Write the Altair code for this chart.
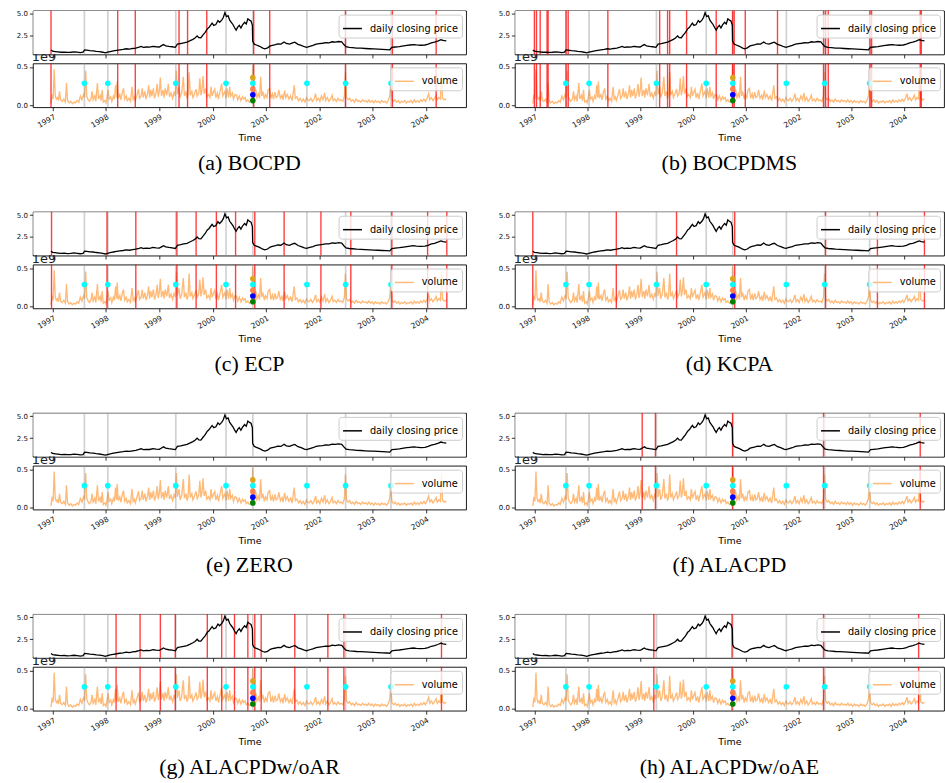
import altair as alt
import pandas as pd

# ---------------- data ----------------
price_year = [1996.97, 1997.00, 1997.05, 1997.10, 1997.16, 1997.22, 1997.28, 1997.34, 1997.40, 1997.46,
              1997.52, 1997.57, 1997.60, 1997.64, 1997.70, 1997.76, 1997.82, 1997.88, 1997.94, 1997.99,
              1998.03, 1998.08, 1998.14, 1998.20, 1998.26, 1998.32, 1998.38, 1998.44, 1998.50, 1998.56,
              1998.62, 1998.66, 1998.70, 1998.76, 1998.82, 1998.88, 1998.94, 1999.00, 1999.05, 1999.08,
              1999.12, 1999.18, 1999.24, 1999.30, 1999.34, 1999.40, 1999.46, 1999.52, 1999.58, 1999.63,
              1999.67, 1999.71, 1999.74, 1999.78, 1999.82, 1999.86, 1999.90, 1999.93, 1999.96, 1999.99,
              2000.02, 2000.06, 2000.10, 2000.13, 2000.17, 2000.20, 2000.23, 2000.26, 2000.29, 2000.32,
              2000.35, 2000.38, 2000.41, 2000.44, 2000.47, 2000.50, 2000.53, 2000.56, 2000.60, 2000.63,
              2000.66, 2000.69, 2000.72, 2000.745, 2000.75, 2000.78, 2000.82, 2000.88, 2000.94, 2000.98,
              2001.03, 2001.08, 2001.12, 2001.18, 2001.22, 2001.28, 2001.34, 2001.38, 2001.44, 2001.50,
              2001.54, 2001.60, 2001.66, 2001.72, 2001.76, 2001.82, 2001.88, 2001.94, 2002.00, 2002.06,
              2002.12, 2002.18, 2002.24, 2002.30, 2002.36, 2002.42, 2002.46, 2002.50, 2002.56, 2002.62,
              2002.70, 2002.78, 2002.86, 2002.94, 2003.02, 2003.10, 2003.18, 2003.26, 2003.32, 2003.36,
              2003.42, 2003.50, 2003.58, 2003.64, 2003.70, 2003.76, 2003.82, 2003.90, 2003.98, 2004.04,
              2004.10, 2004.16, 2004.22, 2004.28, 2004.32, 2004.38]
price_value = [0.87, 0.74, 0.70, 0.66, 0.62, 0.64, 0.60, 0.62, 0.67, 0.63,
               0.58, 0.62, 0.88, 0.86, 0.80, 0.78, 0.72, 0.68, 0.62, 0.55,
               0.62, 0.70, 0.78, 0.84, 0.90, 0.95, 1.02, 0.98, 1.05, 1.10,
               1.20, 1.28, 1.18, 1.22, 1.20, 1.30, 1.25, 1.22, 1.40, 1.50,
               1.36, 1.30, 1.25, 1.18, 1.55, 1.62, 1.70, 1.78, 1.95, 2.10,
               2.25, 2.50, 2.30, 2.28, 2.60, 2.90, 3.30, 3.45, 3.70, 3.95,
               3.70, 3.80, 4.25, 4.05, 4.30, 4.60, 5.15, 4.70, 4.80, 4.30,
               4.05, 3.80, 3.45, 3.15, 3.50, 3.70, 3.40, 3.75, 4.05, 3.85,
               4.45, 4.30, 4.20, 3.70, 1.90, 1.55, 1.45, 1.30, 1.10, 1.02,
               1.12, 1.35, 1.42, 1.50, 1.58, 1.55, 1.80, 1.62, 1.55, 1.70,
               1.78, 1.52, 1.40, 1.25, 1.19, 1.30, 1.40, 1.55, 1.60, 1.65,
               1.72, 1.70, 1.82, 1.78, 1.85, 1.80, 1.50, 1.25, 1.18, 1.15,
               1.10, 1.08, 1.05, 1.02, 1.00, 0.98, 0.95, 0.93, 0.90, 1.18,
               1.22, 1.27, 1.35, 1.40, 1.45, 1.50, 1.46, 1.42, 1.45, 1.55,
               1.70, 1.78, 1.90, 2.05, 1.98, 1.92]

# volume, in units of 1e9 shares
vol_year = [1996.97, 1996.99, 1997.01, 1997.03, 1997.05, 1997.07, 1997.09, 1997.11, 1997.13, 1997.15,
            1997.18, 1997.21, 1997.24, 1997.26, 1997.28, 1997.31, 1997.34, 1997.37, 1997.40, 1997.43,
            1997.46, 1997.49, 1997.52, 1997.55, 1997.58, 1997.60, 1997.62, 1997.64, 1997.66, 1997.69,
            1997.72, 1997.74, 1997.76, 1997.79, 1997.81, 1997.84, 1997.86, 1997.89, 1997.91, 1997.93,
            1997.95, 1997.98, 1998.00, 1998.02, 1998.04, 1998.06, 1998.09, 1998.11, 1998.14, 1998.16,
            1998.18, 1998.20, 1998.21, 1998.23, 1998.26, 1998.28, 1998.31, 1998.33, 1998.35, 1998.38,
            1998.40, 1998.43, 1998.46, 1998.49, 1998.51, 1998.53, 1998.55, 1998.58, 1998.61, 1998.63,
            1998.66, 1998.68, 1998.70, 1998.73, 1998.75, 1998.78, 1998.80, 1998.82, 1998.84, 1998.86,
            1998.89, 1998.91, 1998.94, 1998.96, 1998.98, 1999.00, 1999.02, 1999.04, 1999.07, 1999.09,
            1999.11, 1999.14, 1999.17, 1999.19, 1999.22, 1999.25, 1999.28, 1999.30, 1999.32, 1999.34,
            1999.37, 1999.39, 1999.42, 1999.45, 1999.47, 1999.50, 1999.52, 1999.54, 1999.56, 1999.58,
            1999.61, 1999.63, 1999.66, 1999.69, 1999.71, 1999.74, 1999.76, 1999.78, 1999.80, 1999.82,
            1999.84, 1999.87, 1999.89, 1999.92, 1999.95, 1999.97, 1999.99, 2000.02, 2000.04, 2000.06,
            2000.09, 2000.11, 2000.14, 2000.17, 2000.19, 2000.21, 2000.23, 2000.25, 2000.27, 2000.30,
            2000.32, 2000.34, 2000.37, 2000.39, 2000.42, 2000.45, 2000.47, 2000.50, 2000.53, 2000.56,
            2000.58, 2000.61, 2000.63, 2000.66, 2000.69, 2000.72, 2000.74, 2000.75, 2000.77, 2000.79,
            2000.81, 2000.83, 2000.86, 2000.88, 2000.90, 2000.92, 2000.94, 2000.97, 2000.99, 2001.02,
            2001.04, 2001.07, 2001.09, 2001.12, 2001.14, 2001.17, 2001.19, 2001.22, 2001.24, 2001.27,
            2001.30, 2001.32, 2001.35, 2001.37, 2001.40, 2001.43, 2001.46, 2001.49, 2001.51, 2001.53,
            2001.55, 2001.58, 2001.61, 2001.64, 2001.67, 2001.70, 2001.73, 2001.76, 2001.78, 2001.81,
            2001.84, 2001.87, 2001.90, 2001.93, 2001.95, 2001.98, 2002.01, 2002.04, 2002.07, 2002.10,
            2002.12, 2002.15, 2002.18, 2002.21, 2002.24, 2002.26, 2002.29, 2002.32, 2002.35, 2002.38,
            2002.41, 2002.44, 2002.47, 2002.49, 2002.51, 2002.54, 2002.57, 2002.60, 2002.63, 2002.66,
            2002.69, 2002.72, 2002.75, 2002.78, 2002.81, 2002.84, 2002.87, 2002.90, 2002.93, 2002.96,
            2002.99, 2003.02, 2003.05, 2003.08, 2003.11, 2003.14, 2003.17, 2003.20, 2003.23, 2003.26,
            2003.29, 2003.32, 2003.34, 2003.36, 2003.39, 2003.42, 2003.45, 2003.48, 2003.51, 2003.54,
            2003.57, 2003.60, 2003.63, 2003.66, 2003.69, 2003.72, 2003.75, 2003.78, 2003.81, 2003.84,
            2003.87, 2003.90, 2003.93, 2003.96, 2003.99, 2004.02, 2004.05, 2004.07, 2004.10, 2004.13,
            2004.16, 2004.19, 2004.21, 2004.24, 2004.27, 2004.29, 2004.31, 2004.34, 2004.36, 2004.38]
vol_value = [0.02, 0.14, 0.08, 0.47, 0.12, 0.08, 0.10, 0.06, 0.18, 0.07,
             0.05, 0.08, 0.04, 0.29, 0.06, 0.03, 0.05, 0.02, 0.04, 0.03,
             0.06, 0.04, 0.12, 0.07, 0.14, 0.10, 0.45, 0.12, 0.08, 0.05,
             0.08, 0.18, 0.07, 0.12, 0.05, 0.29, 0.08, 0.13, 0.06, 0.20,
             0.04, 0.06, 0.03, 0.10, 0.20, 0.08, 0.11, 0.05, 0.12, 0.08,
             0.26, 0.10, 0.31, 0.09, 0.14, 0.07, 0.18, 0.22, 0.08, 0.12,
             0.06, 0.09, 0.05, 0.24, 0.08, 0.11, 0.06, 0.13, 0.21, 0.09,
             0.12, 0.22, 0.10, 0.18, 0.08, 0.15, 0.26, 0.10, 0.20, 0.12,
             0.22, 0.09, 0.16, 0.28, 0.11, 0.18, 0.36, 0.12, 0.20, 0.10,
             0.22, 0.13, 0.28, 0.11, 0.16, 0.09, 0.18, 0.12, 0.45, 0.14,
             0.24, 0.10, 0.16, 0.37, 0.12, 0.18, 0.09, 0.14, 0.43, 0.13,
             0.18, 0.10, 0.15, 0.21, 0.12, 0.16, 0.35, 0.13, 0.20, 0.38,
             0.15, 0.22, 0.11, 0.14, 0.10, 0.24, 0.12, 0.18, 0.21, 0.10,
             0.16, 0.08, 0.18, 0.28, 0.12, 0.15, 0.18, 0.09, 0.22, 0.10,
             0.24, 0.12, 0.16, 0.08, 0.14, 0.13, 0.07, 0.12, 0.06, 0.11,
             0.08, 0.10, 0.05, 0.07, 0.04, 0.06, 0.10, 0.52, 0.20, 0.12,
             0.20, 0.10, 0.15, 0.09, 0.37, 0.12, 0.18, 0.08, 0.14, 0.10,
             0.20, 0.22, 0.09, 0.15, 0.08, 0.17, 0.10, 0.12, 0.20, 0.09,
             0.13, 0.07, 0.19, 0.10, 0.14, 0.08, 0.12, 0.06, 0.16, 0.26,
             0.09, 0.11, 0.06, 0.09, 0.05, 0.08, 0.04, 0.10, 0.07, 0.06,
             0.09, 0.05, 0.08, 0.15, 0.06, 0.09, 0.05, 0.12, 0.07, 0.16,
             0.06, 0.10, 0.05, 0.08, 0.13, 0.06, 0.08, 0.05, 0.09, 0.06,
             0.07, 0.05, 0.12, 0.43, 0.10, 0.07, 0.09, 0.05, 0.07, 0.04,
             0.08, 0.05, 0.06, 0.04, 0.07, 0.05, 0.06, 0.04, 0.07, 0.04,
             0.06, 0.03, 0.06, 0.04, 0.05, 0.03, 0.06, 0.04, 0.05, 0.03,
             0.06, 0.12, 0.30, 0.08, 0.05, 0.07, 0.04, 0.06, 0.03, 0.05,
             0.04, 0.06, 0.03, 0.05, 0.04, 0.06, 0.03, 0.07, 0.04, 0.06,
             0.04, 0.07, 0.05, 0.08, 0.05, 0.09, 0.15, 0.07, 0.10, 0.06,
             0.09, 0.13, 0.07, 0.10, 0.08, 0.45, 0.09, 0.07, 0.08, 0.07]

# annotated change points (grey lines) and annotator marks
true_cp = [1997.596, 1998.035, 1999.309, 2000.251, 2000.754, 2001.767, 2002.493, 2003.343]
annot_year = true_cp + [2000.754, 2000.754, 2000.754, 2000.754]
annot_vol = [0.285] * 8 + [0.36, 0.21, 0.135, 0.06]
annot_color = ["cyan"] * 8 + ["goldenrod", "#ff7f50", "blue", "green"]

captions = ["(a) BOCPD", "(b) BOCPDMS", "(c) ECP", "(d) KCPA",
            "(e) ZERO", "(f) ALACPD", "(g) ALACPDw/oAR", "(h) ALACPDw/oAE"]
detected = [
    [1996.97, 1998.22, 1998.55, 1999.37, 1999.53, 1999.89, 2000.77, 2001.07, 2002.49, 2003.37, 2004.19],
    [1997.00, 1997.04, 1997.11, 1997.24, 1997.26, 1997.60, 1997.64, 1998.39, 1999.37, 1999.52, 1999.56,
     1999.88, 2000.44, 2000.75, 2000.78, 2000.99, 2001.60, 2002.47, 2002.51, 2002.56, 2003.35, 2003.38,
     2004.30, 2004.32],
    [1996.98, 1998.02, 1998.56, 1999.33, 1999.69, 2000.07, 2000.43, 2000.79, 2001.34, 2002.03, 2002.59,
     2003.36, 2004.03, 2004.39],
    [1996.97, 1998.55, 1999.69, 2000.79, 2002.51, 2003.49, 2004.38],
    [],
    [1999.04, 1999.29, 2000.75, 2002.47, 2004.30],
    [1998.19, 1998.64, 1999.02, 1999.30, 1999.90, 2000.17, 2000.41, 2000.66, 2000.79, 2000.91, 2001.54,
     2002.16, 2002.46, 2004.29],
    [1999.26, 2000.74, 2002.47, 2004.27],
]
years = [1997, 1998, 1999, 2000, 2001, 2002, 2003, 2004]
price_ticks = [2.5, 5.0]
vol_ticks = [0.0, 0.5]

# ---------------- chart ----------------
X_DOMAIN = [1996.63, 2004.75]
PRICE_DOMAIN = [0.37, 5.39]
VOL_DOMAIN = [-0.026, 0.546]
H = 44
GAP = 9

price_df = pd.DataFrame({"year": price_year, "price": price_value})
price_df["series"] = "daily closing price"
vol_df = pd.DataFrame({"year": vol_year, "vol": vol_value})
vol_df["series"] = "volume"
gray_df = pd.DataFrame({"year": true_cp})
annot_df = pd.DataFrame({"year": annot_year, "vol": annot_vol, "c": annot_color})
one = pd.DataFrame({"k": [0]})


def legend():
    return alt.Legend(title=None, orient="top-right", offset=4, padding=3.5,
                      fillColor="rgba(255,255,255,0.8)", strokeColor="#cccccc",
                      cornerRadius=3, symbolType="stroke", symbolSize=361,
                      symbolStrokeWidth=1.5, labelFontSize=9.8, labelFont="DejaVu Sans",
                      labelColor="black", labelOffset=7)


def panel(caption, cps, W):
    xs = alt.Scale(domain=X_DOMAIN, nice=False, zero=False)
    x_top = alt.X("year:Q", scale=xs,
                  axis=alt.Axis(values=years, labels=False, title=None))
    x_bot = alt.X("year:Q", scale=xs,
                  axis=alt.Axis(values=years, format="d", labelAngle=-30, labelAlign="right",
                                labelBaseline="top", labelFlush=False, labelOverlap=False,
                                labelFontSize=7.6, title="Time", titlePadding=4))
    cp_df = pd.DataFrame({"year": pd.Series(cps, dtype=float)})

    sci = alt.Chart(one).mark_text(align="left", baseline="alphabetic", fontSize=13,
                                   font="DejaVu Sans", color="#222").encode(
        x=alt.value(-1), y=alt.value(H + 7), text=alt.value("1e9"))
    bg = alt.Chart(one).mark_rect(fill="white").encode(
        x=alt.value(0.5), x2=alt.value(W - 0.5), y=alt.value(0.5), y2=alt.value(H - 0.5))

    def gray(xenc):
        return alt.Chart(gray_df).mark_rule(color="#9a9a9a", opacity=0.45, strokeWidth=1.7).encode(x=xenc)

    def red(xenc):
        return alt.Chart(cp_df).mark_rule(color="red", opacity=0.75, strokeWidth=1.4).encode(x=xenc)

    price = alt.Chart(price_df).mark_line(strokeWidth=1.3).encode(
        x=x_top,
        y=alt.Y("price:Q", scale=alt.Scale(domain=PRICE_DOMAIN, nice=False, zero=False),
                axis=alt.Axis(values=price_ticks, format=".1f", title=None)),
        color=alt.Color("series:N", scale=alt.Scale(domain=["daily closing price"], range=["black"]),
                        legend=legend()))
    top = alt.layer(sci, bg, gray(x_top), red(x_top), price).properties(width=W, height=H)

    vol = alt.Chart(vol_df).mark_line(strokeWidth=1.35).encode(
        x=x_bot,
        y=alt.Y("vol:Q", scale=alt.Scale(domain=VOL_DOMAIN, nice=False, zero=False),
                axis=alt.Axis(values=vol_ticks, format=".1f", title=None)),
        color=alt.Color("series:N", scale=alt.Scale(domain=["volume"], range=["#ffba78"]),
                        legend=legend()))
    dots = alt.Chart(annot_df).mark_circle(size=32, opacity=1).encode(
        x=x_bot, y=alt.Y("vol:Q"), fill=alt.Fill("c:N", scale=None))
    bottom = alt.layer(vol, gray(x_bot), red(x_bot), dots).properties(
        width=W, height=H,
        title=alt.TitleParams(caption, orient="bottom", font="Liberation Serif", fontSize=22,
                              fontWeight="normal", color="black", offset=11, anchor="middle",
                              frame="group"))
    return alt.vconcat(top, bottom, spacing=GAP, bounds="flush").resolve_scale(
        color="independent", fill="independent")


rows = []
for r in range(4):
    left = panel(captions[2 * r], detected[2 * r], 435)
    right = panel(captions[2 * r + 1], detected[2 * r + 1], 431)
    rows.append(alt.hconcat(left, right, spacing=30).resolve_scale(color="independent", fill="independent"))

chart = alt.vconcat(*rows, spacing=35).resolve_scale(
    color="independent", fill="independent"
).properties(
    padding={"left": 15, "top": 7, "right": 0, "bottom": 0}, background="white"
).configure_view(
    stroke="black", strokeWidth=0.9
).configure_axis(
    domain=False, grid=False, tickColor="black", tickSize=3.5, tickWidth=0.8,
    labelColor="#111", labelFont="DejaVu Sans", labelFontSize=7, labelPadding=2,
    titleFont="DejaVu Sans", titleFontSize=9.5, titleFontWeight="normal", titleColor="black"
)

chart.save("out.html", embed_options={"renderer": "svg", "actions": False})
